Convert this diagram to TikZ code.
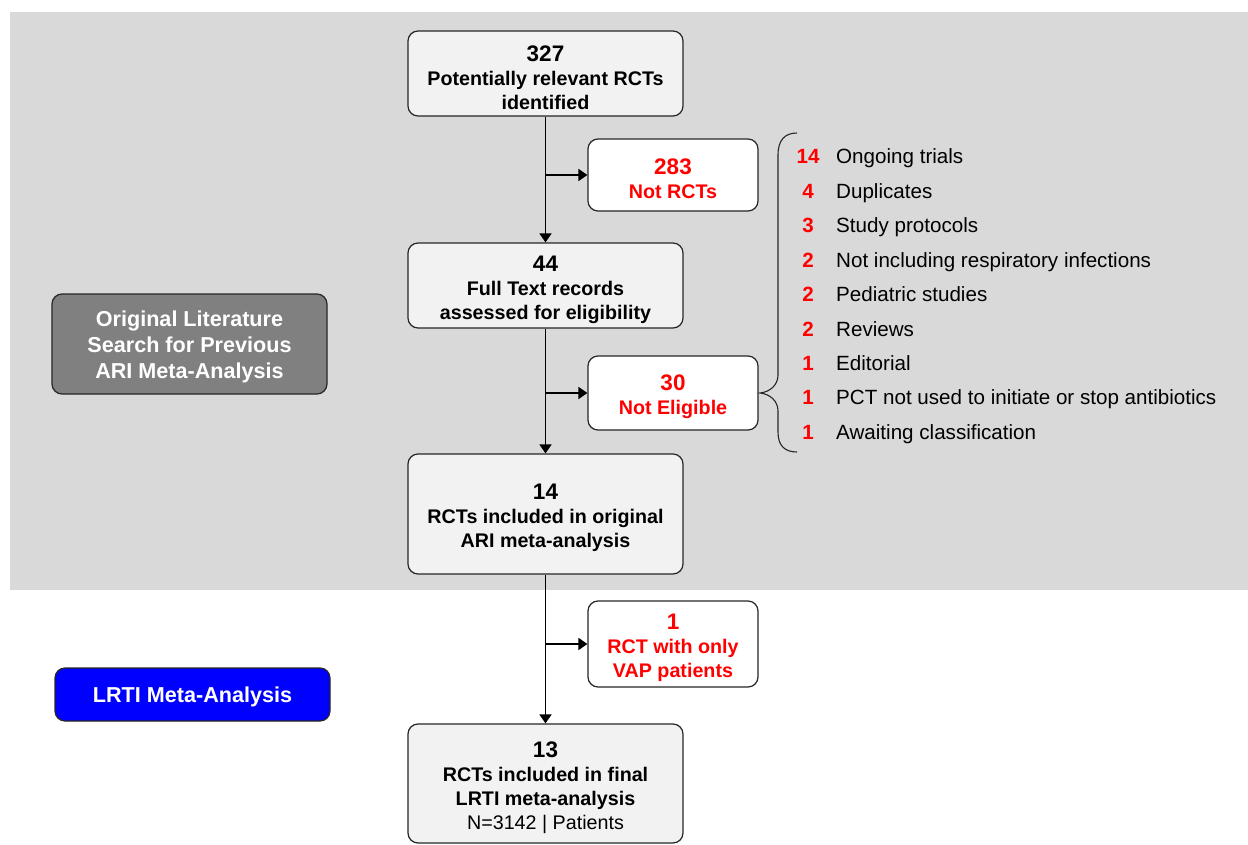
\documentclass[tikz,border=0pt]{standalone}
\usepackage{fontspec}
\setmainfont{Liberation Sans}
\usetikzlibrary{arrows.meta}
\definecolor{bg}{HTML}{D9D9D9}
\definecolor{boxfill}{HTML}{F2F2F2}
\definecolor{hdr}{HTML}{808080}
\definecolor{exred}{HTML}{FF0000}
\definecolor{lrti}{HTML}{0000FF}
% large count on the first line of a box, with a taller strut
\newcommand\bigfig[1]{{\fontsize{22.5}{26}\selectfont\rule{0pt}{24pt}#1}}
\begin{document}
\begin{tikzpicture}[x=1pt,y=-1pt,
  box/.style={draw=black!85, line width=1.2pt, rounded corners=10pt, fill=boxfill,
    align=center, inner sep=0pt, font=\fontsize{19.7}{24}\selectfont\bfseries},
  exbox/.style={box, fill=white, text=exred},
  side/.style={draw=black!85, line width=1.2pt, rounded corners=10pt, text=white,
    align=center, inner sep=0pt, font=\fontsize{21.6}{26}\selectfont\bfseries},
  flow/.style={line width=1.8pt, -{Triangle[length=9pt,width=12pt]}},
  cnt/.style={text=exred, font=\fontsize{20.6}{24}\selectfont\bfseries, inner sep=0pt, anchor=base},
  reason/.style={font=\fontsize{20.6}{24}\selectfont, inner sep=0pt, anchor=base west}
]
\useasboundingbox (0,0) rectangle (1248,845);
\fill[bg] (10,12) rectangle (1248,590);

% main flow
\node[box, minimum width=275pt, minimum height=85pt] (found) at (545.5,73.5)
  {\bigfig{327}\\Potentially relevant RCTs\\identified};
\node[box, minimum width=275pt, minimum height=85pt] (full) at (545.5,285.5)
  {\bigfig{44}\\Full Text records\\assessed for eligibility};
\node[box, minimum width=275pt, minimum height=120pt] (orig) at (545.5,514)
  {\bigfig{14}\\RCTs included in original\\ARI meta-analysis};
\node[box, minimum width=275pt, minimum height=119pt] (final) at (545.5,783.5)
  {\bigfig{13}\\RCTs included in final\\LRTI meta-analysis\\{\mdseries N=3142 | Patients}};

% exclusions
\node[exbox, minimum width=170pt, minimum height=72pt] (notrct) at (673,175)
  {\bigfig{283}\\Not RCTs};
\node[exbox, minimum width=170pt, minimum height=74pt] (notelig) at (673,393)
  {\bigfig{30}\\Not Eligible};
\node[exbox, minimum width=170pt, minimum height=86pt] (vap) at (673,644)
  {\bigfig{1}\\RCT with only\\VAP patients};

% phase labels
\node[side, fill=hdr, minimum width=275pt, minimum height=100pt] (phase1) at (189.5,344)
  {\rule{0pt}{22pt}Original Literature\\Search for Previous\\ARI Meta-Analysis};
\node[side, fill=lrti, minimum width=275pt, minimum height=53pt] (phase2) at (192.5,694.5)
  {\rule{0pt}{20pt}LRTI Meta-Analysis};

% connectors
\draw[flow] (found.south) -- (full.north);
\draw[flow] (found.south |- notrct.west) -- (notrct.west);
\draw[flow] (full.south) -- (orig.north);
\draw[flow] (full.south |- notelig.west) -- (notelig.west);
\draw[flow] (orig.south) -- (final.north);
\draw[flow] (orig.south |- vap.west) -- (vap.west);

% brace grouping the reasons for ineligibility
\draw[line width=1.1pt, black!85] (797,133) .. controls (785,133) and (778,140) .. (778,155)
  -- (778,375) .. controls (778,385) and (770,392) .. (760,393)
  .. controls (770,394) and (778,401) .. (778,411)
  -- (778,432) .. controls (778,446) and (785,452) .. (797,452);

% breakdown of ineligible records
\foreach \n/\t [count=\i from 0] in {14/Ongoing trials, 4/Duplicates, 3/Study protocols,
    2/Not including respiratory infections, 2/Pediatric studies, 2/Reviews, 1/Editorial,
    1/PCT not used to initiate or stop antibiotics, 1/Awaiting classification} {
  \node[cnt] (c\i) at (808,164+34.4*\i) {\n};
  \node[reason] (r\i) at (836,164+34.4*\i) {\t};
}
\end{tikzpicture}
\end{document}
